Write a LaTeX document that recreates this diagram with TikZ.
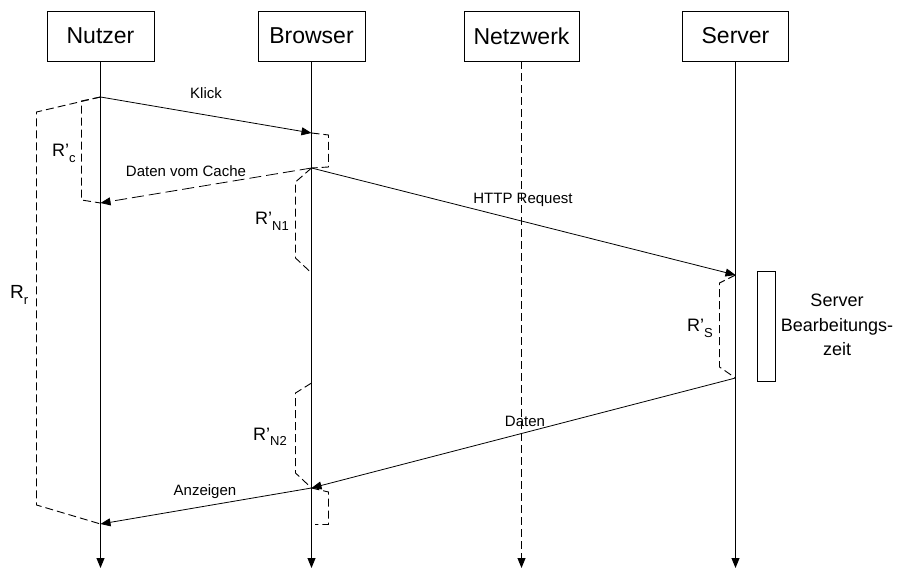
\documentclass[tikz,border=0pt]{standalone}
\usepackage{fontspec}
\setmainfont{Liberation Sans}
\usetikzlibrary{arrows.meta}
% R with a lowered index, as in R'_c
\newcommand\lowidx[2]{#1\raisebox{-0.3em}{\fontsize{13}{13}\selectfont #2}}

\begin{document}
\begin{tikzpicture}[x=1pt,y=-1pt,
  actor/.style={draw, line width=0.8pt, minimum width=107pt, minimum height=50pt,
                inner sep=0pt, font=\fontsize{23}{23}\selectfont},
  tip/.style={-{Triangle[length=10pt,width=8pt]}},
  life/.style={line width=0.9pt, tip},
  msg/.style={line width=0.8pt, tip},
  span/.style={line width=0.9pt, dash pattern=on 8pt off 4pt},
  lbl/.style={font=\fontsize{15}{15}\selectfont, inner sep=1pt},
  rlbl/.style={font=\fontsize{18}{18}\selectfont, inner sep=0pt, anchor=base west}]

\useasboundingbox (0,0) rectangle (903,569);

% participants
\node[actor] (nutzer)  at (100.5,36) {Nutzer};
\node[actor] (browser) at (311.5,36) {Browser};
\node[actor, minimum width=115pt] (netz) at (521.5,36) {Netzwerk};
\node[actor, minimum width=106pt] (server) at (735.5,36) {Server};

% lifeline ends
\coordinate (nEnd) at (100.5,568);
\coordinate (bEnd) at (311.5,568);
\coordinate (wEnd) at (521.5,568);
\coordinate (sEnd) at (735.5,568);

\draw[life] (nutzer.south) -- (nEnd);
\draw[life] (browser.south) -- (bEnd);
\draw[life, dash pattern=on 8pt off 4pt] (netz.south) -- (wEnd);
\draw[life] (server.south) -- (sEnd);

% message points on the lifelines
\coordinate (n1) at (100.5,97);
\coordinate (b1) at (311.5,133);
\coordinate (b2) at (311.5,168);
\coordinate (n2) at (100.5,203);
\coordinate (s1) at (735.5,275);
\coordinate (s2) at (735.5,378);
\coordinate (b3) at (311.5,488);
\coordinate (n3) at (100.5,524);
\coordinate (b4) at (311.5,273);
\coordinate (b5) at (311.5,383);

% time spans
\draw[span] (n1) -- (36.5,112) -- (36.5,505) -- (n3);
\draw[span] (n1) -- (81.5,101) -- (81.5,200) -- (n2);
\draw[span] (b1) -- (328.5,135) -- (328.5,167) -- (b2);
\draw[span] (b2) -- (295.5,182) -- (295.5,258) -- (b4);
\draw[span] (s1) -- (719.5,283) -- (719.5,367) -- (s2);
\draw[span] (b5) -- (295.5,393) -- (295.5,473) -- (b3);
\draw[span] (b3) -- (328.5,492) -- (328.5,524.5) -- (315,524.5);

% messages
\draw[msg] (n1) -- (b1);
\draw[msg, dash pattern=on 12pt off 5pt] (b2) -- (n2);
\draw[msg] (b2) -- (s1);
\draw[msg] (s2) -- (b3);
\draw[msg] (b3) -- (n3);

% message labels
\node[lbl] (lKlick) at (206,93) {Klick};
\node[lbl, fill=white] (lCache) at (186,171) {Daten vom Cache};
\node[lbl] (lHttp) at (523,200) {HTTP Request};
\node[lbl] (lDaten) at (525,421) {Daten};
\node[lbl, fill=white] (lAnz) at (205,492) {Anzeigen};

% server processing bar
\node[draw, line width=0.8pt, minimum width=18pt, minimum height=110pt, inner sep=0pt]
  (proc) at (766.5,326) {};
\node[align=center, font=\fontsize{18}{24.5}\selectfont, inner sep=0pt]
  (procText) at (837,325) {Server\\Bearbeitungs-\\zeit};

% span labels
\node[rlbl, font=\fontsize{19}{19}\selectfont] (rr) at (10,299) {\lowidx{R}{r}};
\node[rlbl] (rc) at (52,157) {\lowidx{R’}{c}};
\node[rlbl] (rn1) at (255,225) {\lowidx{R’}{N1}};
\node[rlbl] (rs) at (687,332) {\lowidx{R’}{S}};
\node[rlbl] (rn2) at (253,440) {\lowidx{R’}{N2}};
\end{tikzpicture}
\end{document}
